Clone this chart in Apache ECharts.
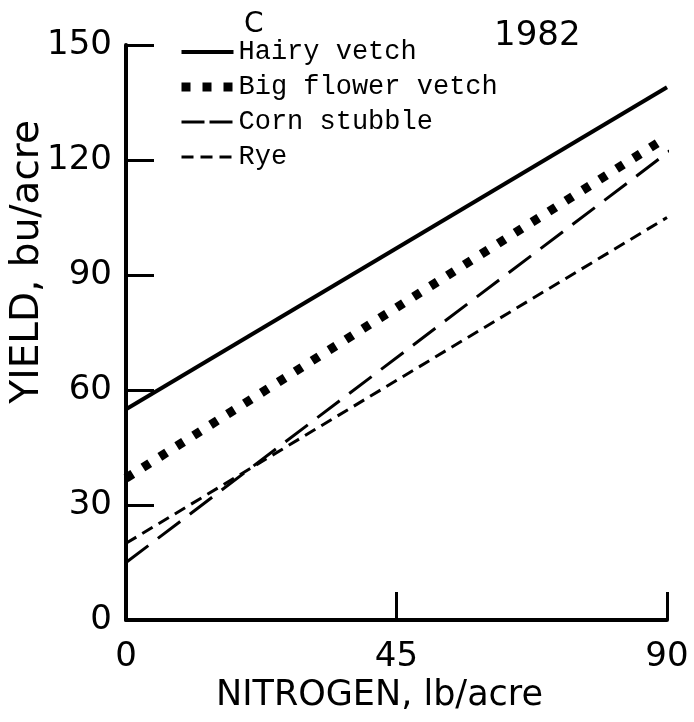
<!DOCTYPE html>
<html>
<head>
<meta charset="utf-8">
<title>Yield vs nitrogen, 1982</title>
<script src="https://cdn.jsdelivr.net/npm/echarts@6/dist/echarts.min.js"></script>
<style>
  html, body { margin: 0; padding: 0; background: #fff; }
  #chart { width: 694px; height: 722px; }
</style>
</head>
<body>
<div id="chart"></div>
<script>
// x: nitrogen rate (lb/acre), y: yield (bu/acre) - fitted lines
const nitrogen = [0, 90];
const cornNitrogen = [0, 93.5]; // corn stubble line runs a bit past 90 in the original
const hairyVetch = [55, 139];
const bigFlowerVetch = [37, 126];
const cornStubble = [15, 126];
const rye = [20, 105];

const xTicks = [0, 45, 90];
const yTicks = [0, 30, 60, 90, 120, 150];

const SANS = 'DejaVu Sans';
const MONO = 'Liberation Mono';

// dash patterns for the plotted lines
const styles = {
  'Hairy vetch': { type: 'solid', width: 4 },
  'Big flower vetch': { type: [8, 12], width: 9 },
  'Corn stubble': { type: [28, 12], width: 3 },
  'Rye': { type: [12, 7], width: 3 }
};
// the key in the original draws the dashes a little tighter
const legendStyles = {
  'Hairy vetch': { type: 'solid', width: 4 },
  'Big flower vetch': { type: [9, 12], width: 9 },
  'Corn stubble': { type: [23, 5], width: 3 },
  'Rye': { type: [12, 7], width: 3 }
};

const pairs = (xs, ys) => xs.map((x, i) => [x, ys[i]]);

const chart = echarts.init(document.getElementById('chart'));

const makeSeries = (name, xs, ys) => ({
  name,
  type: 'line',
  data: pairs(xs, ys),
  symbol: 'none',
  clip: false,
  silent: true,
  color: '#000',
  itemStyle: { color: '#000' },
  lineStyle: Object.assign({ color: '#000', cap: 'butt' }, styles[name])
});

const option = {
  animation: false,
  backgroundColor: '#fff',
  grid: { left: 126, right: 27, top: 45, bottom: 102, containLabel: false },
  legend: {
    orient: 'vertical',
    left: 172,
    top: 32,
    itemWidth: 52,
    itemHeight: 16,
    itemGap: 5,
    selectedMode: false,
    itemStyle: { opacity: 0 },
    textStyle: { fontFamily: MONO, fontSize: 27, lineHeight: 30, color: '#000' },
    data: Object.keys(legendStyles).map(name => ({
      name,
      lineStyle: Object.assign({ color: '#000', cap: 'butt' }, legendStyles[name])
    }))
  },
  xAxis: {
    type: 'value',
    min: 0,
    max: 90,
    interval: 45,
    axisLine: { lineStyle: { color: '#000', width: 4 } },
    axisTick: { inside: true, length: 28, lineStyle: { color: '#000', width: 3 } },
    axisLabel: {
      margin: 20,
      fontFamily: SANS,
      fontSize: 34,
      color: '#000',
      formatter: v => (xTicks.includes(v) ? String(v) : '')
    },
    splitLine: { show: false }
  },
  yAxis: {
    type: 'value',
    min: 0,
    max: 150,
    interval: 30,
    axisLine: { show: true, lineStyle: { color: '#000', width: 4 } },
    axisTick: { show: true, inside: true, length: 28, lineStyle: { color: '#000', width: 3 } },
    axisLabel: {
      margin: 14,
      fontFamily: SANS,
      fontSize: 34,
      color: '#000',
      formatter: v => (yTicks.includes(v) ? String(v) : '')
    },
    splitLine: { show: false }
  },
  graphic: [
    {
      type: 'text',
      left: 8,
      top: 120,
      rotation: Math.PI / 2,
      style: { text: 'YIELD, bu/acre', font: `39px "${SANS}"`, fill: '#000' }
    },
    {
      type: 'text',
      left: 216,
      top: 678,
      style: { text: 'NITROGEN, lb/acre', font: `35px "${SANS}"`, fill: '#000' }
    },
    {
      type: 'text',
      left: 244,
      top: 11,
      style: { text: 'C', font: `28px "${SANS}"`, fill: '#000' }
    },
    {
      type: 'text',
      left: 494,
      top: 19,
      style: { text: '1982', font: `34px "${SANS}"`, fill: '#000' }
    }
  ],
  series: [
    makeSeries('Hairy vetch', nitrogen, hairyVetch),
    makeSeries('Big flower vetch', nitrogen, bigFlowerVetch),
    makeSeries('Corn stubble', cornNitrogen, cornStubble),
    makeSeries('Rye', nitrogen, rye)
  ]
};

chart.setOption(option);

window.addEventListener('resize', () => chart.resize());
</script>
</body>
</html>
